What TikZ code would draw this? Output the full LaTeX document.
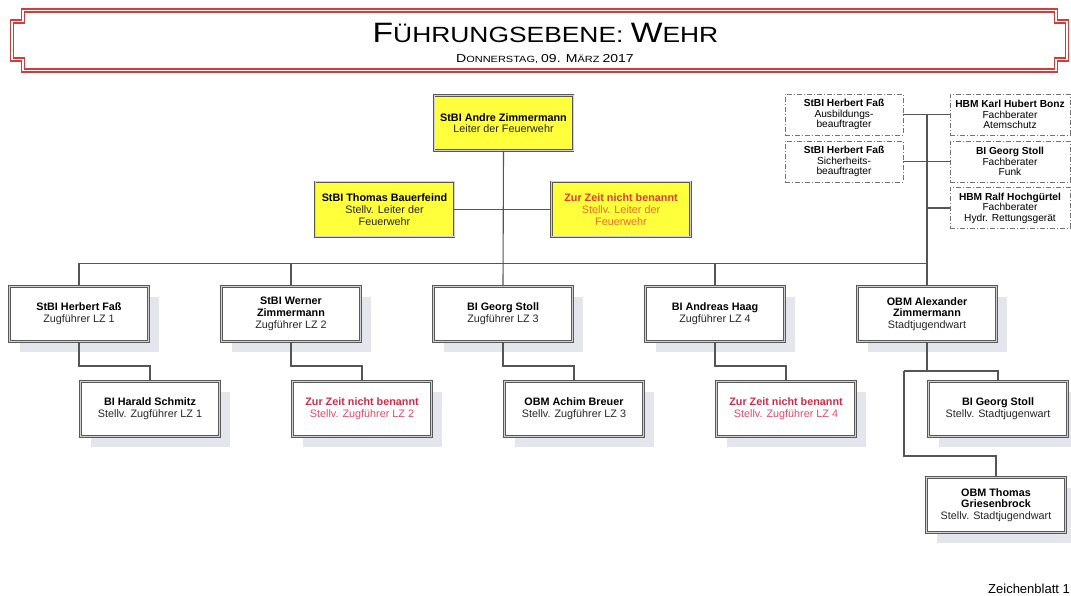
\documentclass[tikz,border=0pt]{standalone}
\usepackage{fontspec}
\setmainfont{Liberation Sans}
\usetikzlibrary{shadows}
\definecolor{yfill}{HTML}{FFFF3C}
\definecolor{shadowc}{HTML}{E5E5EE}
\definecolor{framered}{HTML}{D83A3A}
\definecolor{zrA}{HTML}{E23A2E}
\definecolor{zrB}{HTML}{EE6A30}
\definecolor{zwA}{HTML}{D42A44}
\definecolor{zwB}{HTML}{E2486A}
\definecolor{linec}{HTML}{555555}
\newcommand\boxfont{\fontsize{10.8}{11.7}\selectfont}
\newcommand\smallboxfont{\fontsize{10.2}{10.6}\selectfont}
\newcommand\rl[1]{{\color{black!85}#1}}
\begin{document}
\begin{tikzpicture}[x=1pt,y=-1pt,
  conn/.style={draw=linec, line width=1.1pt},
  orgbox/.style={draw=black!65, double=black!18, double distance=1pt, line width=0.9pt,
    minimum width=139pt, minimum height=55pt, align=center, inner sep=2pt, font=\boxfont},
  ybox/.style={orgbox, fill=yfill},
  wbox/.style={orgbox, fill=white,
    drop shadow={shadow xshift=10pt, shadow yshift=-10pt, fill=shadowc, opacity=1}},
  dbox/.style={draw=black!55, line width=0.9pt, dash pattern=on 5pt off 2pt on 1pt off 2pt,
    minimum width=118pt, minimum height=41pt, align=center, inner sep=2pt, font=\smallboxfont},
  frame/.style={draw=framered, double=white, line width=1.6pt, double distance=1.2pt}
]
\useasboundingbox (0,0) rectangle (1071,596);
\fill[white] (0,0) rectangle (1071,596);

% title frame
\draw[frame] (23,10.5) -- (1056,10.5) -- (1056,21.5) -- (1067,21.5) -- (1067,59.5)
  -- (1056,59.5) -- (1056,70.5) -- (23,70.5) -- (23,59.5) -- (12,59.5) -- (12,21.5)
  -- (23,21.5) -- cycle;
\node[anchor=base, inner sep=0pt] (title) at (545.5,43)
  {\scalebox{1.2}[1]{\fontsize{28}{28}\selectfont F\fontsize{22}{22}\selectfont ÜHRUNGSEBENE: \fontsize{28}{28}\selectfont W\fontsize{22}{22}\selectfont EHR}};
\node[anchor=base, inner sep=0pt] (date) at (545,62.5)
  {\scalebox{1.22}[1]{\fontsize{11.5}{11.5}\selectfont D\fontsize{9}{9}\selectfont ONNERSTAG, \fontsize{11.5}{11.5}\selectfont 09. M\fontsize{9}{9}\selectfont ÄRZ \fontsize{11.5}{11.5}\selectfont 2017}};

% leadership
\node[ybox] (lead) at (503.5,123) {\textbf{StBI Andre Zimmermann}\\\rl{Leiter der Feuerwehr}};
\node[ybox] (depl) at (384.5,209.5) {\textbf{StBI Thomas Bauerfeind}\\\rl{Stellv. Leiter der}\\\rl{Feuerwehr}};
\node[ybox] (depr) at (621,209.5) {\textcolor{zrA}{\textbf{Zur Zeit nicht benannt}}\\\textcolor{zrB}{Stellv. Leiter der}\\\textcolor{zrB}{Feuerwehr}};

% staff (dashed)
\node[dbox] (da1) at (844,114.5) {\textbf{StBI Herbert Faß}\\Ausbildungs-\\beauftragter};
\node[dbox] (da2) at (844,161.5) {\textbf{StBI Herbert Faß}\\Sicherheits-\\beauftragter};
\node[dbox, minimum width=120pt] (fb1) at (1010,114.5) {\textbf{HBM Karl Hubert Bonz}\\Fachberater\\Atemschutz};
\node[dbox, minimum width=120pt] (fb2) at (1010,161.5) {\textbf{BI Georg Stoll}\\Fachberater\\Funk};
\node[dbox, minimum width=120pt] (fb3) at (1010,208) {\textbf{HBM Ralf Hochgürtel}\\Fachberater\\Hydr. Rettungsgerät};

% level 2
\node[wbox] (a1) at (79,314) {\textbf{StBI Herbert Faß}\\\rl{Zugführer LZ 1}};
\node[wbox] (a2) at (291,314) {\textbf{StBI Werner}\\\textbf{Zimmermann}\\\rl{Zugführer LZ 2}};
\node[wbox] (a3) at (503,314) {\textbf{BI Georg Stoll}\\\rl{Zugführer LZ 3}};
\node[wbox] (a4) at (715,314) {\textbf{BI Andreas Haag}\\\rl{Zugführer LZ 4}};
\node[wbox] (a5) at (927,314) {\textbf{OBM Alexander}\\\textbf{Zimmermann}\\\rl{Stadtjugendwart}};

% level 3
\node[wbox] (b1) at (150,409) {\textbf{BI Harald Schmitz}\\\rl{Stellv. Zugführer LZ 1}};
\node[wbox] (b2) at (362,409) {\textcolor{zwA}{\textbf{Zur Zeit nicht benannt}}\\\textcolor{zwB}{Stellv. Zugführer LZ 2}};
\node[wbox] (b3) at (574,409) {\textbf{OBM Achim Breuer}\\\rl{Stellv. Zugführer LZ 3}};
\node[wbox] (b4) at (786,409) {\textcolor{zwA}{\textbf{Zur Zeit nicht benannt}}\\\textcolor{zwB}{Stellv. Zugführer LZ 4}};
\node[wbox] (b5) at (998,409) {\textbf{BI Georg Stoll}\\\rl{Stellv. Stadtjugenwart}};
\node[wbox] (b6) at (996,505) {\textbf{OBM Thomas}\\\textbf{Griesenbrock}\\\rl{Stellv. Stadtjugendwart}};

% connectors
\draw[conn] (lead.south) -- (a3.north);
\draw[conn] (depl.east) -- (depr.west);
\draw[conn] (a1.north) -- ++(0,-23) -| (a5.north);
\draw[conn] (a2.north) -- ++(0,-23);
\draw[conn] (a4.north) -- ++(0,-23);
\draw[conn] (a5.north) -- (a5.north |- da1.east);
\draw[conn] (da1.east) -- (fb1.west);
\draw[conn] (da2.east) -- (fb2.west);
\draw[conn] (a5.north |- fb3.west) -- (fb3.west);
\draw[conn] (a1.south) -- ++(0,24) -| (b1.north);
\draw[conn] (a2.south) -- ++(0,24) -| (b2.north);
\draw[conn] (a3.south) -- ++(0,24) -| (b3.north);
\draw[conn] (a4.south) -- ++(0,24) -| (b4.north);
\coordinate (j1) at (904,371);
\coordinate (j2) at (904,456);
\draw[conn] (a5.south) |- (j1);
\draw[conn] (j1) -| (b5.north);
\draw[conn] (j1) -- (j2) -| (b6.north);

\node[anchor=base west, inner sep=0pt, font=\fontsize{13}{15}\selectfont] (zb) at (988,593) {Zeichenblatt 1};
\end{tikzpicture}
\end{document}
